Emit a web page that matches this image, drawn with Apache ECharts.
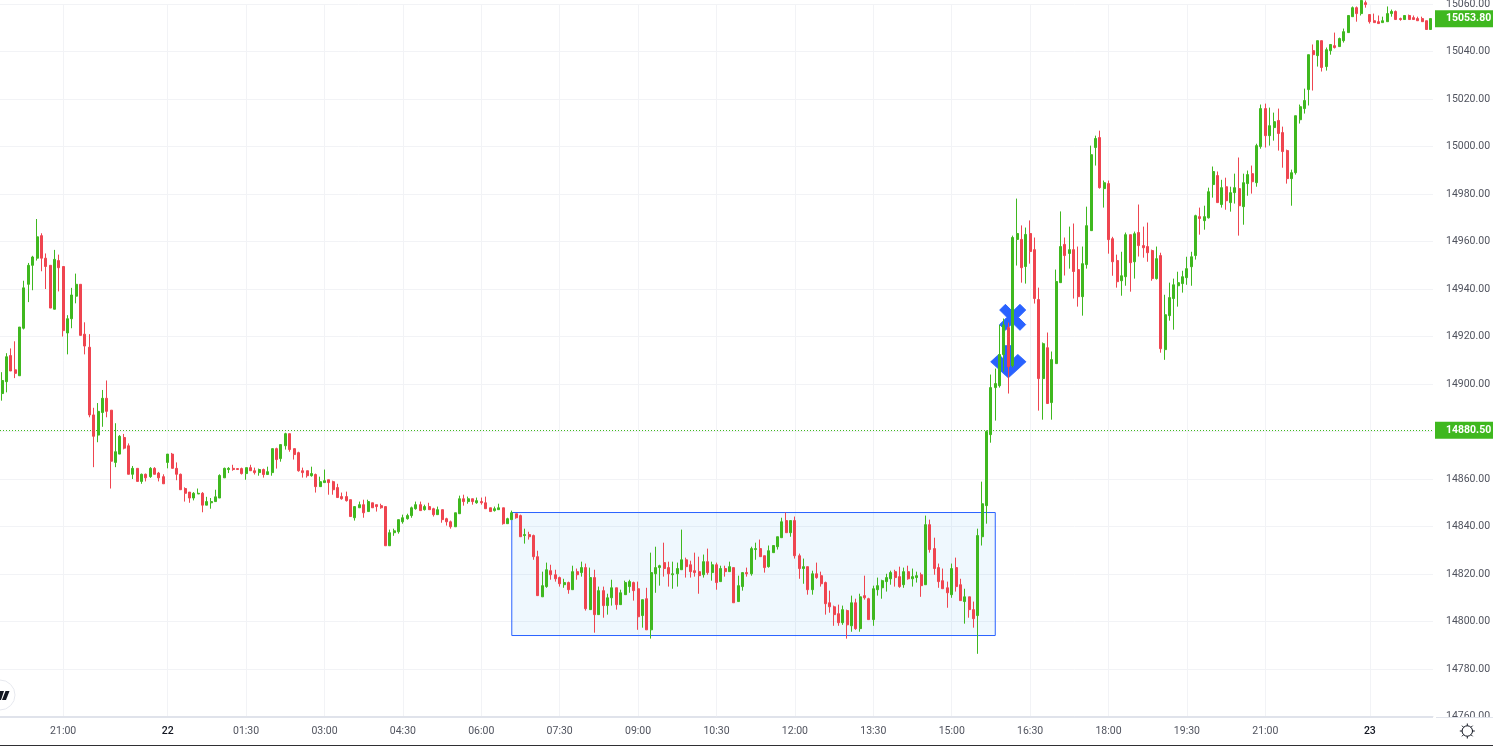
<!DOCTYPE html>
<html><head><meta charset="utf-8">
<style>html,body{margin:0;padding:0;background:#fff}#c{width:1493px;height:746px}</style>
<script src="https://cdn.jsdelivr.net/npm/echarts@6/dist/echarts.min.js"></script>
</head><body><div id="c"></div>
<script>
const opens = [
14896,14901,14912,14906,14903.5,14923.5,14942,14950,14953,14962.5,
14953,14950,14931.5,14952,14949.5,14921.5,14927.5,14937,14942,14921,
14915.5,14887,14878.5,14888,14894,14889,14867,14870.5,14877.5,14874,
14862,14864.5,14859,14862,14861,14864.5,14862.5,14861,14867,14870.5,
14864.5,14862,14856,14854.5,14852,14853.7,14854,14849,14850,14850.5,
14852,14860.5,14864,14864.5,14864.4,14864.4,14862.3,14864.8,14863.5,14862.7,
14864,14861.9,14862.7,14872.8,14868.6,14874,14879.1,14872.8,14871.1,14863.5,
14863.5,14861.4,14861.9,14856.8,14858.5,14859.7,14858.9,14856.4,14852.6,14852.6,
14851.3,14843.7,14847.9,14849.2,14846.3,14850,14849.2,14848.8,14848.4,14831.9,
14837.4,14837.8,14842,14843.3,14844.6,14847.5,14849.2,14847.1,14848.4,14847.5,
14845,14847.1,14843.3,14842,14839.9,14845.4,14851.7,14850.5,14851.7,14850,
14850.5,14850,14847.9,14846.7,14847.1,14847.9,14841.2,14842.9,14845.4,14844.6,
14836.2,14836.6,14836.2,14827.3,14810.4,14814.7,14821.4,14819.7,14818.5,14815.5,
14816.4,14813.4,14821,14820.6,14822.7,14805,14818.5,14802.9,14813,14806.7,
14810,14814.2,14807.1,14811.3,14814.7,14816.4,14813.8,14802.5,14809.6,14796.5,
14820.1,14822.7,14824.8,14822.7,14819.7,14820.1,14821.8,14826,14823.9,14821.4,
14821,14819.7,14825.2,14820.6,14823.9,14816.8,14822.3,14821,14822.7,14808.4,
14814.7,14820.6,14820.1,14830.3,14830.7,14827.7,14823.1,14829,14831.5,14835.3,
14842.5,14837.4,14842.5,14827.7,14822.3,14823.1,14813.4,14820.1,14819.3,14816.4,
14807.9,14806.2,14803.3,14799.5,14804.6,14798.2,14807.9,14797,14810.9,14809.6,
14800.8,14813.4,14814.2,14816.8,14818,14821,14818.9,14815.5,14821,14818,
14818.5,14819.7,14815.5,14840.8,14830.7,14822.7,14817.2,14814.2,14811.3,14822.7,
14815.5,14808.4,14810.4,14805,14802.5,14835.7,14848.8,14878.7,14898.5,14899.3,
14912.4,14923.8,14907.8,14960.9,14960.9,14949.5,14963.4,14956.6,14935.6,14902.3,
14915.3,14892.2,14908.6,14942.7,14958.8,14955,14956.6,14948.2,14936.8,14950.3,
14964.6,14999.6,15003.8,14982.3,14984.4,14961.2,14952,14943.5,14945.2,14962.9,
14951.5,14963.8,14958.3,14957.9,14956.2,14944.4,14954.1,14914.5,14928.8,14936,
14941.4,14942.3,14944.8,14949.4,14954.1,14970.5,14968.8,14970,14984,14987.8,
14975.6,14983.1,14976.4,14980.6,14982.3,14974.7,14984.4,14988.6,14984.8,15000,
15016,15004.6,15008,15011,15005.9,14998.3,14986.5,14989,15011.3,15016,
15024,15040.4,15038.3,15044.6,15033.7,15040.4,15042.5,15042.1,15044.6,15048,
15054.7,15058.5,15056,15060.6,15055.6,15053,15052.6,15052.2,15052.6,15056,
15056.9,15053.9,15053.5,15055.2,15054.3,15053.9,15053.9,15053,15049.3];
const closes = [
14901.5,14911.5,14905.5,14904.5,14924,14940.5,14950,14953.5,14962,14953,
14949.5,14932,14952.5,14949,14922.5,14927.5,14937.5,14942,14920.5,14916,
14887,14878,14888.5,14894,14888.5,14867.5,14871.5,14878,14873,14862,
14864.5,14859,14862,14860.5,14864.5,14862,14860.5,14858,14870.5,14864.5,
14862,14855.5,14854,14852,14854,14854,14849,14850.5,14850.5,14852.5,
14861.5,14864.5,14864.5,14864,14864,14862.3,14864.8,14863.5,14862.7,14864,
14861.9,14863.1,14872.8,14868.2,14874.5,14879.1,14872.4,14870.3,14863.5,14862.7,
14861.4,14862.3,14856.8,14858.9,14859.3,14858.5,14855.5,14852.2,14851.7,14850.9,
14844.2,14848.4,14849.2,14845.8,14850.5,14847.9,14848.4,14847.9,14831.9,14837.4,
14838.2,14842.9,14843.7,14844.6,14847.9,14849.2,14846.7,14848.4,14847.1,14845,
14847.1,14842.9,14842,14839.9,14845.8,14851.7,14850.5,14851.7,14850.5,14850.9,
14850,14847.5,14846.3,14847.5,14847.9,14841.2,14843.3,14845.8,14843.7,14835.7,
14836.6,14835.7,14827.3,14810.9,14815.1,14821.8,14819.7,14818,14815.9,14816.4,
14813.4,14821,14819.7,14822.7,14805.4,14818.5,14802.9,14813,14806.7,14810,
14814.2,14807.1,14812.1,14816.4,14816.8,14813,14802,14809.2,14796.5,14820.6,
14822.7,14823.5,14822.3,14820.1,14820.1,14822.3,14826,14823.1,14821,14820.6,
14819.3,14825.2,14820.6,14823.9,14816.4,14822.3,14821,14823.1,14807.9,14815.1,
14820.6,14820.1,14830.7,14830.7,14827.3,14822.7,14829.8,14832,14835.7,14842,
14837.4,14842.5,14827.7,14822.3,14823.1,14813.4,14820.1,14818.5,14815.9,14807.5,
14806.2,14802.9,14799.5,14805,14798.6,14807.9,14797,14810.4,14810,14800.8,
14813.8,14815.1,14817.2,14818.5,14820.6,14818.5,14814.7,14821,14818,14818.9,
14819.3,14815.1,14840.8,14830.3,14822.3,14816.8,14813.8,14812.1,14822.3,14814.7,
14808.8,14810.4,14805,14801.2,14836.2,14849.6,14880,14898.5,14900.2,14912.4,
14924.9,14907.3,14961.7,14963.4,14949,14963,14955.8,14936,14902.3,14917,
14891.8,14910.3,14943.2,14957.9,14954.1,14956.6,14947.4,14936.8,14950.7,14966.7,
14996.6,15003.4,14982.7,14984.8,14960.8,14951.5,14943.1,14945.6,14962.9,14951.1,
14963.3,14958.3,14957.4,14955.3,14944.4,14952.8,14914.9,14929.2,14936.4,14941.8,
14942.7,14945.2,14948.6,14953.6,14970.9,14969.7,14970.5,14981,14989.5,14976.4,
14982.7,14977.2,14980.6,14982.7,14975.1,14984.8,14988.2,14985.2,15000.4,15016,
15004.6,15008.8,15010.5,15005.5,14997.9,14986.5,14989,15013,15016.8,15019.4,
15038.7,15038.7,15044.6,15033.3,15040.8,15043,15041.7,15045.5,15048.4,15055.2,
15058.5,15056,15061.5,15059.8,15052.6,15052.2,15051.8,15053,15056,15056.9,
15053.5,15053.5,15055.2,15053.5,15053.5,15053,15052.6,15049.3,15053.9];
const lows = [
14893,14896.5,14905.5,14902.5,14903.5,14923,14934.5,14939.5,14952,14947.5,
14940,14932,14931.5,14939,14920,14912.5,14923.5,14934,14920.5,14912.5,
14886,14865,14875.5,14882,14886,14856,14865,14870.5,14872.5,14862,
14860,14859,14858,14859,14860.5,14862,14859,14858,14864.5,14864.5,
14859.5,14855.5,14850.5,14850,14851,14853.7,14846,14849,14847.5,14850.5,
14852,14860.5,14862.5,14863.5,14864,14861.9,14859.7,14863.5,14861.9,14861.4,
14860.6,14861.9,14861.4,14864.4,14867.3,14872.4,14871.5,14868.2,14863.1,14860.6,
14860.6,14861,14854.3,14856.8,14858.5,14853.4,14853.4,14852.2,14851.3,14850.5,
14844.2,14842.5,14847.9,14843.7,14846.3,14847.9,14846.3,14847.5,14831.9,14831.9,
14836.1,14837,14841.2,14842.9,14843.7,14847.1,14846.7,14846.7,14847.1,14844.2,
14845,14841.6,14840.4,14839.1,14839.9,14845.4,14848.8,14849.6,14849.2,14849.6,
14849.2,14847.5,14846.3,14846.3,14847.1,14840.8,14841.2,14842.9,14843.3,14835.7,
14832.8,14834.5,14826,14810.9,14810.4,14814.2,14817.6,14816.8,14814.7,14814.2,
14811.7,14813.4,14817.6,14818.9,14804.6,14805,14795.3,14802.9,14801.6,14802.9,
14806.7,14805,14807.1,14811.3,14812.1,14808.8,14796.5,14797.4,14796.5,14792.8,
14812.1,14815.1,14818.9,14814.7,14813.8,14814.7,14821.8,14818.5,14818.5,14818.9,
14811.7,14818.5,14819.7,14817.2,14813.4,14816.8,14818.9,14821,14807.9,14808.4,
14813,14818.9,14819.3,14826,14827.3,14820.6,14822.7,14829,14830.3,14835.3,
14837.4,14835.7,14826.5,14818,14815.9,14811.3,14811.3,14818,14814.7,14802.9,
14803.7,14798.2,14798.2,14798.6,14792.8,14795.7,14796.5,14795.7,14809.2,14800.8,
14798.2,14810.9,14809.6,14812.6,14815.5,14814.7,14814.2,14814.2,14817.6,14814.7,
14816.4,14810.4,14815.5,14829,14819.7,14814.2,14813.8,14805.8,14810,14812.6,
14808.8,14799.1,14801.6,14797.4,14786.4,14832,14841.2,14875.3,14884.6,14898.5,
14905.2,14896,14907,14949.9,14942.7,14942.3,14950.7,14933.9,14888.8,14885,
14891.8,14885,14908.6,14942.7,14945.7,14948.6,14936,14932.6,14928.8,14948.6,
14964.6,14992,14982.3,14974.3,14954.9,14945.6,14940.6,14937.2,14941.4,14938.9,
14944.4,14953.7,14953.2,14951.5,14943.5,14944,14913.2,14910.2,14926.7,14922.9,
14932.6,14938.5,14941.8,14941.4,14952.4,14962.9,14965,14969.7,14978.5,14976.4,
14974.3,14973.4,14972.6,14976,14962.5,14967.1,14979.3,14980.2,14983.1,14999.1,
14999.6,15000.4,15002.5,14998.3,14991.1,14984.4,14975.1,14988.2,15009.7,15013.9,
15017.3,15023.6,15033.7,15031.6,15032,15038.7,15041.3,15042.1,15043.8,15048,
15054.7,15052.6,15055.2,15058.5,15051.8,15052.2,15051.8,15052.2,15052.6,15054.7,
15053.5,15053,15053.5,15053.5,15053.5,15053,15052.6,15049.3,15049.3];
const highs = [
14905,14913,14915,14918,14924,14943.5,14951,14954,14969.5,14963.5,
14955,14950,14956.5,14954.5,14949.5,14929,14940.5,14946.5,14942,14926,
14921,14890,14892,14897.5,14901.5,14889,14883.5,14878.5,14879,14875,
14865.5,14864.5,14862.3,14862.3,14865,14865,14863,14862,14870.5,14871,
14867,14862.3,14856.5,14854.5,14854.5,14856,14854.5,14852.5,14852,14855.5,
14862,14864.8,14865,14866,14864.6,14864.8,14864.8,14866,14864.8,14864.4,
14864.4,14865.2,14872.8,14873.2,14874.5,14879.5,14879.1,14872.8,14871.5,14864.8,
14863.5,14865.2,14862.3,14861,14864,14859.7,14859.3,14858,14854.3,14854.7,
14851.3,14848.4,14850.5,14851.3,14851.3,14850,14849.2,14849.6,14848.4,14838.7,
14839.1,14842.9,14845,14845.4,14848.4,14850.5,14850.5,14849.2,14850,14847.9,
14848.4,14847.1,14843.7,14842.5,14845.8,14853,14853.4,14852.6,14851.7,14852.2,
14852.2,14852.6,14847.9,14848.4,14849.6,14847.9,14843.7,14846.7,14845.4,14845,
14839.1,14837.8,14836.6,14829.8,14821,14824.8,14823.9,14821.8,14818.9,14818,
14816.8,14823.5,14822.3,14825.2,14824.4,14822.7,14821.8,14814.7,14814.7,14811.7,
14817.6,14814.2,14813.4,14817.2,14817.6,14816.8,14816.8,14809.2,14814.2,14829,
14831.5,14823.9,14833.2,14825.2,14825.2,14824.8,14838.7,14826.9,14825.6,14829,
14827.3,14828.2,14830.7,14825.2,14824.8,14823.5,14823.5,14825.2,14822.7,14819.3,
14820.6,14822.7,14831.5,14833.2,14834.5,14827.7,14832,14832,14835.7,14843.7,
14845.9,14842.5,14844.2,14828.6,14826.5,14823.1,14821.4,14824.8,14821,14816.8,
14813,14806.7,14807.1,14806.7,14805,14810.9,14809.6,14811.7,14819.3,14810,
14815.1,14818.5,14817.6,14820.1,14821.4,14821.8,14823.1,14822.7,14823.5,14822.3,
14821,14820.6,14844.6,14842.9,14835.3,14824.4,14822.3,14816.8,14824.4,14826.9,
14818,14813.8,14810.4,14808.4,14839.1,14858.9,14880.5,14904,14906.5,14924.9,
14927.6,14925.9,14962.5,14978.1,14966.8,14965.9,14968.9,14961.7,14940.6,14917.5,
14921.7,14913.7,14948.2,14972.7,14961.7,14966.3,14967.6,14957.9,14957.9,14974.7,
15000.4,15004.6,15006.7,14985.7,14985.7,14962,14954.5,14955.7,14963.8,14962.9,
14964.2,14975.6,14966.3,14968,14956.6,14957.9,14955.3,14937.6,14942.7,14944.4,
14947.3,14947.7,14953.6,14955.7,14971.3,14974.3,14975.1,14982.7,14991.6,14989.5,
14986,14986.9,14983.1,14988.6,14995.4,14988.6,14989.9,14992,15001.2,15017.7,
15018.1,15016.4,15014.3,15016,15008.4,14998.7,14990.3,15013,15017.7,15024.4,
15038.7,15043,15044.6,15044.6,15041.7,15043,15048,15045.9,15049.7,15055.2,
15059,15059,15063,15061.5,15055.6,15056,15055.2,15054.7,15059,15057.7,
15057.3,15054.3,15055.2,15055.6,15055.2,15054.7,15054.7,15053,15053.9];
const tickIndex = [14,38,56,74,92,110,128,146,164,182,200,218,236,254,272,290,314];
const tickLabels = ['21:00','22','01:30','03:00','04:30','06:00','07:30','09:00','10:30','12:00','13:30','15:00','16:30','18:00','19:30','21:00','23'];
const lastPrice = 15053.80, refPrice = 14880.50;
const boxFrom = 117, boxTo = 228, boxHigh = 14845.9, boxLow = 14794.1;
const markerX = [232, 14928.1], markerArrow = [231, 14909.4];

if (new Set([opens.length,closes.length,lows.length,highs.length]).size!==1 || opens.length!==329)
  throw new Error('len '+[opens.length,closes.length,lows.length,highs.length]);
const GREEN='#3fb81f', RED='#ef4550', BLUE='#2962ff';
const categories = opens.map((_,i)=>String(i));
const labelAt = {}; tickIndex.forEach((t,k)=>labelAt[t]=tickLabels[k]);
const ohlc = opens.map((o,i)=>[o,closes[i],lows[i],highs[i]]);
const tag = (v,lineColor)=>({yAxis:v,lineStyle:{color:lineColor,type:[1,2],width:1},
  label:{show:true,position:'end',distance:2,formatter:v.toFixed(2),color:'#fff',fontFamily:'Roboto',fontWeight:'bold',fontSize:10.5,
  backgroundColor:GREEN,padding:[3,5,2,11],width:42,align:'left',lineHeight:12}});
const sunRays = [[1467.3,723.5,1467.3,725.8],[1467.3,736.2,1467.3,738.5],[1459.8,731,1462.1,731],[1472.5,731,1474.8,731],
  [1462,725.7,1463.6,727.3],[1471,734.7,1472.6,736.3],[1472.6,725.7,1471,727.3],[1463.6,734.7,1462,736.3]]
  .map(r=>({type:'line',z:53,shape:{x1:r[0],y1:r[1],x2:r[2],y2:r[3]},style:{stroke:'#131722',lineWidth:1}}));
const chart = echarts.init(document.getElementById('c'),null,{renderer:'canvas'});
chart.setOption({
 animation:false,
 grid:{left:0,width:1433,top:4.1,height:712.4,containLabel:false,outerBoundsMode:'none'},
 xAxis:{type:'category',data:categories,boundaryGap:true,
  axisLine:{show:true,lineStyle:{color:'#e0e3eb',width:1}},axisTick:{show:false},
  splitLine:{show:true,alignWithLabel:true,interval:(i)=>i in labelAt,lineStyle:{color:'#f2f3f6',width:1}},
  axisLabel:{interval:(i)=>i in labelAt,margin:9,fontFamily:'Roboto',fontSize:10.5,color:'#50535e',hideOverlap:false,
   formatter:(v,i)=>{const s=labelAt[i]||'';return s.length<3?'{d|'+s+'}':s},
   rich:{d:{fontFamily:'Roboto',fontSize:10.5,color:'#131722',fontWeight:500}}}},
 yAxis:{type:'value',position:'right',min:14760,max:15060,interval:20,scale:true,
  axisLine:{show:false},axisTick:{show:false},
  splitLine:{show:true,lineStyle:{color:'#f2f3f6',width:1}},
  axisLabel:{margin:13,fontFamily:'Roboto',fontSize:10.5,color:'#50535e',formatter:(v)=>v.toFixed(2),showMinLabel:true,showMaxLabel:true}},
 series:[
  {type:'scatter',z:2,silent:true,data:[{value:markerX,symbol:'path://M22 0L50 28L78 0L100 22L72 50L100 78L78 100L50 72L22 100L0 78L28 50L0 22Z',symbolSize:[26,26]},
     {value:markerArrow,symbol:'path://M37 0H63V43L77 28L100 50L50 100L0 50L23 28L37 43Z',symbolSize:[35,32]}],
   itemStyle:{color:BLUE,opacity:1,borderColor:BLUE,borderWidth:1,borderJoin:'round'},clip:false},
  {type:'candlestick',z:3,data:ohlc,barWidth:2.5,clip:false,silent:true,
   itemStyle:{color:GREEN,color0:RED,borderColor:GREEN,borderColor0:RED,borderWidth:1},
   markArea:{silent:true,z:1,itemStyle:{color:'rgba(33,150,243,0.07)',borderColor:BLUE,borderWidth:1},
     data:[[{xAxis:boxFrom,yAxis:boxHigh},{xAxis:boxTo,yAxis:boxLow}]]},
   markLine:{silent:true,symbol:'none',z:1,animation:false,data:[tag(refPrice,GREEN),tag(lastPrice,'rgba(0,0,0,0)')]}}
 ],
 graphic:[
  {type:'rect',z:50,shape:{x:1433,y:717,width:60,height:29},style:{fill:'#fff'}},
  {type:'rect',z:51,shape:{x:0,y:717,width:1433,height:1},style:{fill:'#e0e3eb'}},
  {type:'rect',z:51,shape:{x:1436,y:717,width:57,height:1},style:{fill:'#e0e3eb'}},
  {type:'rect',z:51,shape:{x:0,y:745,width:1493,height:1},style:{fill:'#2f2f33'}},
  {type:'circle',z:52,shape:{cx:0,cy:695,r:15},style:{fill:'#fff',stroke:'#e6e8ee',lineWidth:1}},
  {type:'polygon',z:53,shape:{points:[[0,691],[4,691],[1,700],[0,700]]},style:{fill:'#131722'}},
  {type:'polygon',z:53,shape:{points:[[5.5,691],[9.5,691],[6,700],[2,700]]},style:{fill:'#131722'}},
  {type:'circle',z:53,shape:{cx:1467.3,cy:731,r:5.2},style:{fill:'none',stroke:'#131722',lineWidth:1}},
  ...sunRays
 ]
});
</script></body></html>
